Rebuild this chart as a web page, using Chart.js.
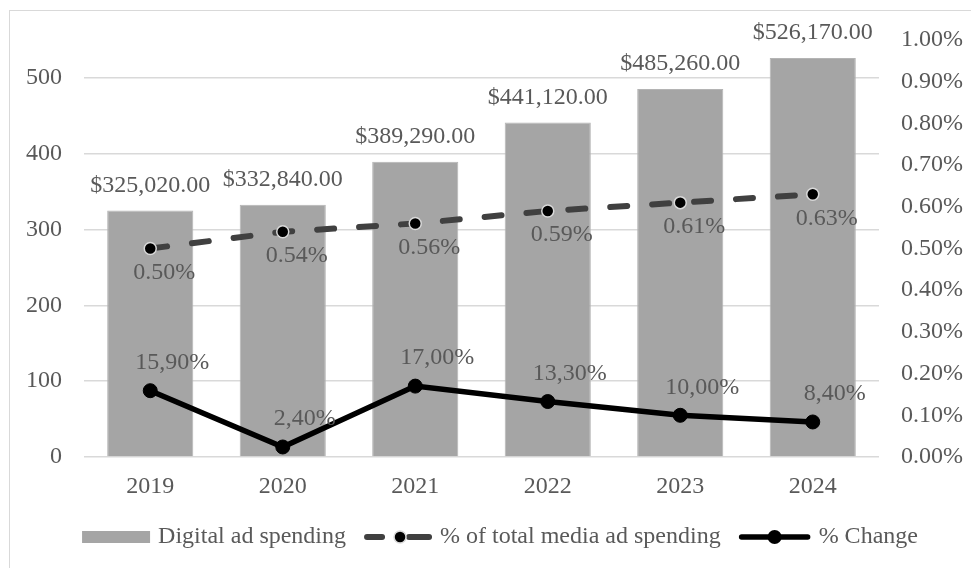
<!DOCTYPE html>
<html>
<head>
<meta charset="utf-8">
<script src="https://cdn.jsdelivr.net/npm/chart.js@4"></script>
<style>
  body { margin: 0; background: #fff; }
  #wrap { position: relative; width: 971px; height: 568px; overflow: hidden; }
  #frame { position: absolute; left: 9px; top: 10px; width: 1000px; height: 600px; border: 1.5px solid #d9d9d9; }
  #chart { position: absolute; left: 0; top: 0; }
</style>
</head>
<body>
<div id="wrap">
  <div id="frame"></div>
  <canvas id="chart" width="971" height="568"></canvas>
</div>
<script>
// data
const years = ["2019", "2020", "2021", "2022", "2023", "2024"];
const adSpend = [325.02, 332.84, 389.29, 441.12, 485.26, 526.17]; // thousands
const mediaShare = [0.50, 0.54, 0.56, 0.59, 0.61, 0.63];          // right axis, %
const pctChange = [0.159, 0.024, 0.170, 0.133, 0.100, 0.084];     // plotted on right axis
const seriesNames = ["Digital ad spending", "% of total media ad spending", "% Change"];

const FONT = "'Liberation Serif', 'Times New Roman', serif";
const TEXT = "#595959";

const fmtMoney = v => "$" + (v * 1000).toLocaleString("en-US", { minimumFractionDigits: 2, maximumFractionDigits: 2 });
const fmtShare = v => v.toFixed(2) + "%";
const fmtChange = v => (v * 100).toFixed(2).replace(".", ",") + "%";

// value labels next to marks
const labelPlugin = {
  id: "valueLabels",
  afterDatasetsDraw(chart) {
    const ctx = chart.ctx;
    ctx.save();
    ctx.font = "24px " + FONT;
    ctx.fillStyle = TEXT;
    ctx.textAlign = "center";
    ctx.textBaseline = "middle";
    chart.getDatasetMeta(0).data.forEach((el, i) => ctx.fillText(fmtMoney(adSpend[i]), el.x, el.y - 25));
    chart.getDatasetMeta(1).data.forEach((el, i) => ctx.fillText(fmtShare(mediaShare[i]), el.x + 14, el.y + 24));
    chart.getDatasetMeta(2).data.forEach((el, i) => ctx.fillText(fmtChange(pctChange[i]), el.x + 22, el.y - 28));
    ctx.restore();
  }
};

// legend drawn by hand so the symbols look like the original
const legendPlugin = {
  id: "customLegend",
  afterDraw(chart) {
    const ctx = chart.ctx;
    const y = 537;
    ctx.save();
    ctx.font = "24px " + FONT;
    const symW = [68, 68, 72];
    const gapText = 8, gapItem = 18;
    const textW = seriesNames.map(t => ctx.measureText(t).width);
    let total = 0;
    for (let i = 0; i < 3; i++) total += symW[i] + gapText + textW[i] + (i < 2 ? gapItem : 0);
    let x = 500 - total / 2;
    for (let i = 0; i < 3; i++) {
      const w = symW[i];
      if (i === 0) {
        ctx.fillStyle = "#a5a5a5";
        ctx.fillRect(x, y - 6, w, 12);
      } else if (i === 1) {
        ctx.strokeStyle = "#404040";
        ctx.lineWidth = 6;
        ctx.lineCap = "round";
        ctx.beginPath();
        ctx.moveTo(x + 3, y); ctx.lineTo(x + 18, y);
        ctx.moveTo(x + 45, y); ctx.lineTo(x + w - 3, y);
        ctx.stroke();
        ctx.beginPath();
        ctx.arc(x + 36, y, 6, 0, Math.PI * 2);
        ctx.fillStyle = "#000";
        ctx.fill();
        ctx.lineWidth = 1.5;
        ctx.strokeStyle = "#d9d9d9";
        ctx.stroke();
      } else {
        ctx.strokeStyle = "#000";
        ctx.lineWidth = 5.5;
        ctx.lineCap = "round";
        ctx.beginPath();
        ctx.moveTo(x + 3, y); ctx.lineTo(x + w - 3, y);
        ctx.stroke();
        ctx.beginPath();
        ctx.arc(x + w / 2, y, 7, 0, Math.PI * 2);
        ctx.fillStyle = "#000";
        ctx.fill();
      }
      x += w + gapText;
      ctx.fillStyle = TEXT;
      ctx.textAlign = "left";
      ctx.textBaseline = "middle";
      ctx.fillText(seriesNames[i], x, y);
      x += textW[i] + gapItem;
    }
    ctx.restore();
  }
};

new Chart(document.getElementById("chart").getContext("2d"), {
  data: {
    labels: years,
    datasets: [
      {
        type: "bar",
        label: seriesNames[0],
        data: adSpend,
        yAxisID: "y",
        backgroundColor: "#a5a5a5",
        borderColor: "#b4b4b4",
        borderWidth: 1,
        categoryPercentage: 1,
        barPercentage: 0.65,
        order: 3
      },
      {
        type: "line",
        label: seriesNames[1],
        data: mediaShare,
        yAxisID: "y1",
        borderColor: "#404040",
        borderWidth: 6,
        borderDash: [17, 25],
        borderCapStyle: "round",
        pointRadius: 6,
        pointBackgroundColor: "#000",
        pointBorderColor: "#d9d9d9",
        pointBorderWidth: 1.5,
        tension: 0,
        order: 2
      },
      {
        type: "line",
        label: seriesNames[2],
        data: pctChange,
        yAxisID: "y1",
        borderColor: "#000",
        borderWidth: 5.5,
        pointRadius: 7,
        pointBackgroundColor: "#000",
        pointBorderColor: "#000",
        pointBorderWidth: 1,
        tension: 0,
        order: 1
      }
    ]
  },
  options: {
    responsive: false,
    animation: false,
    layout: { padding: { top: 40, left: 0, right: 0, bottom: 0 } },
    plugins: { legend: { display: false }, tooltip: { enabled: false } },
    scales: {
      x: {
        grid: { display: false },
        border: { display: false },
        ticks: { color: TEXT, font: { family: FONT, size: 24 }, padding: 7 },
        afterFit: s => { s.height = 111; }
      },
      y: {
        position: "left",
        min: 0,
        max: 550,
        grid: { color: "#d9d9d9", lineWidth: 1.5, drawTicks: false },
        border: { display: false },
        ticks: { stepSize: 100, color: TEXT, font: { family: FONT, size: 24 }, padding: 22 },
        afterBuildTicks: s => { s.ticks = s.ticks.filter(t => t.value % 100 === 0); },
        afterFit: s => { s.width = 84; }
      },
      y1: {
        position: "right",
        min: 0,
        max: 1,
        grid: { display: false, drawTicks: false },
        border: { display: false },
        ticks: {
          stepSize: 0.1,
          color: TEXT,
          font: { family: FONT, size: 24 },
          padding: 22,
          callback: v => v.toFixed(2) + "%"
        },
        afterFit: s => { s.width = 92; }
      }
    }
  },
  plugins: [labelPlugin, legendPlugin]
});
</script>
</body>
</html>
